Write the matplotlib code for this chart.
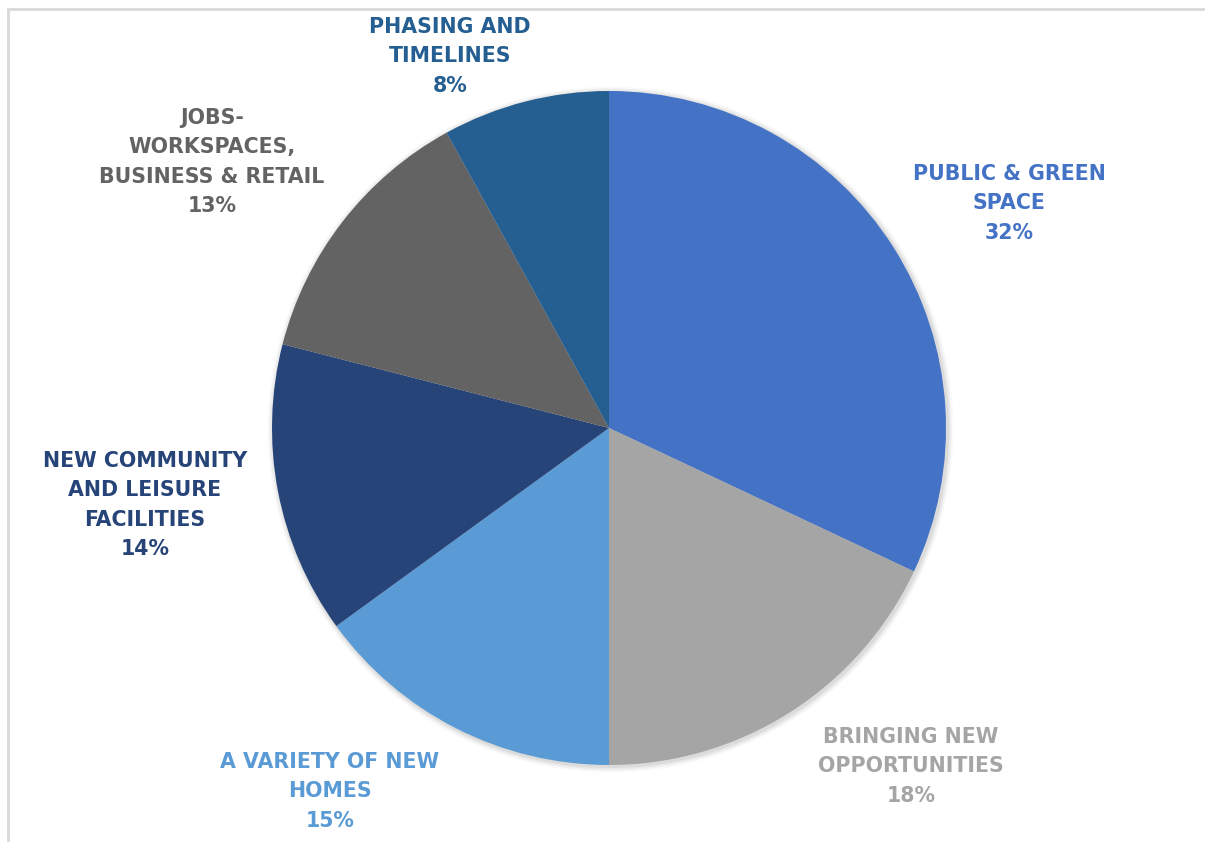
import matplotlib
matplotlib.use("Agg")
import matplotlib.pyplot as plt
from matplotlib.patches import Rectangle, Circle

categories = [
    "PUBLIC & GREEN\nSPACE",
    "BRINGING NEW\nOPPORTUNITIES",
    "A VARIETY OF NEW\nHOMES",
    "NEW COMMUNITY\nAND LEISURE\nFACILITIES",
    "JOBS-\nWORKSPACES,\nBUSINESS & RETAIL",
    "PHASING AND\nTIMELINES",
]
shares = [32, 18, 15, 14, 13, 8]
colors = ["#4472C4", "#A5A5A5", "#5B9BD5", "#264478", "#636363", "#255E91"]

# label anchor points (pixels from top-left, top of first line)
label_pos = [(1009, 164), (911, 727), (330, 752), (145, 451), (212, 108), (450, 17)]

W, H = 1205, 842
fig = plt.figure(figsize=(W / 100, H / 100), dpi=100)
ax = fig.add_axes([0, 0, 1, 1])

cx, cy, r = 609, H - 428, 337

# soft drop shadow behind the pie
for i, a in enumerate([0.05, 0.04, 0.03, 0.02]):
    ax.add_patch(Circle((cx + 1.5, cy - 1.5), r + 1.5 + i * 1.5, color="black",
                        alpha=a, linewidth=0, zorder=0))

ax.pie(shares, colors=colors, startangle=90, counterclock=False,
       center=(cx, cy), radius=r, frame=True,
       wedgeprops=dict(linewidth=0))
ax.set_xlim(0, W)
ax.set_ylim(0, H)
ax.set_aspect("equal")
ax.axis("off")

# chart frame
ax.add_patch(Rectangle((7.5, -20), W + 20, H - 8.5 + 20, fill=False,
                       edgecolor="#D9D9D9", linewidth=2, clip_on=False))

for name, val, col, (x, y) in zip(categories, shares, colors, label_pos):
    ax.text(x, H - y, f"{name}\n{val}%", color=col, ha="center", va="top",
            fontsize=14.8, fontweight="bold", family="DejaVu Sans",
            linespacing=1.58)

fig.savefig("out.png", dpi=100)
